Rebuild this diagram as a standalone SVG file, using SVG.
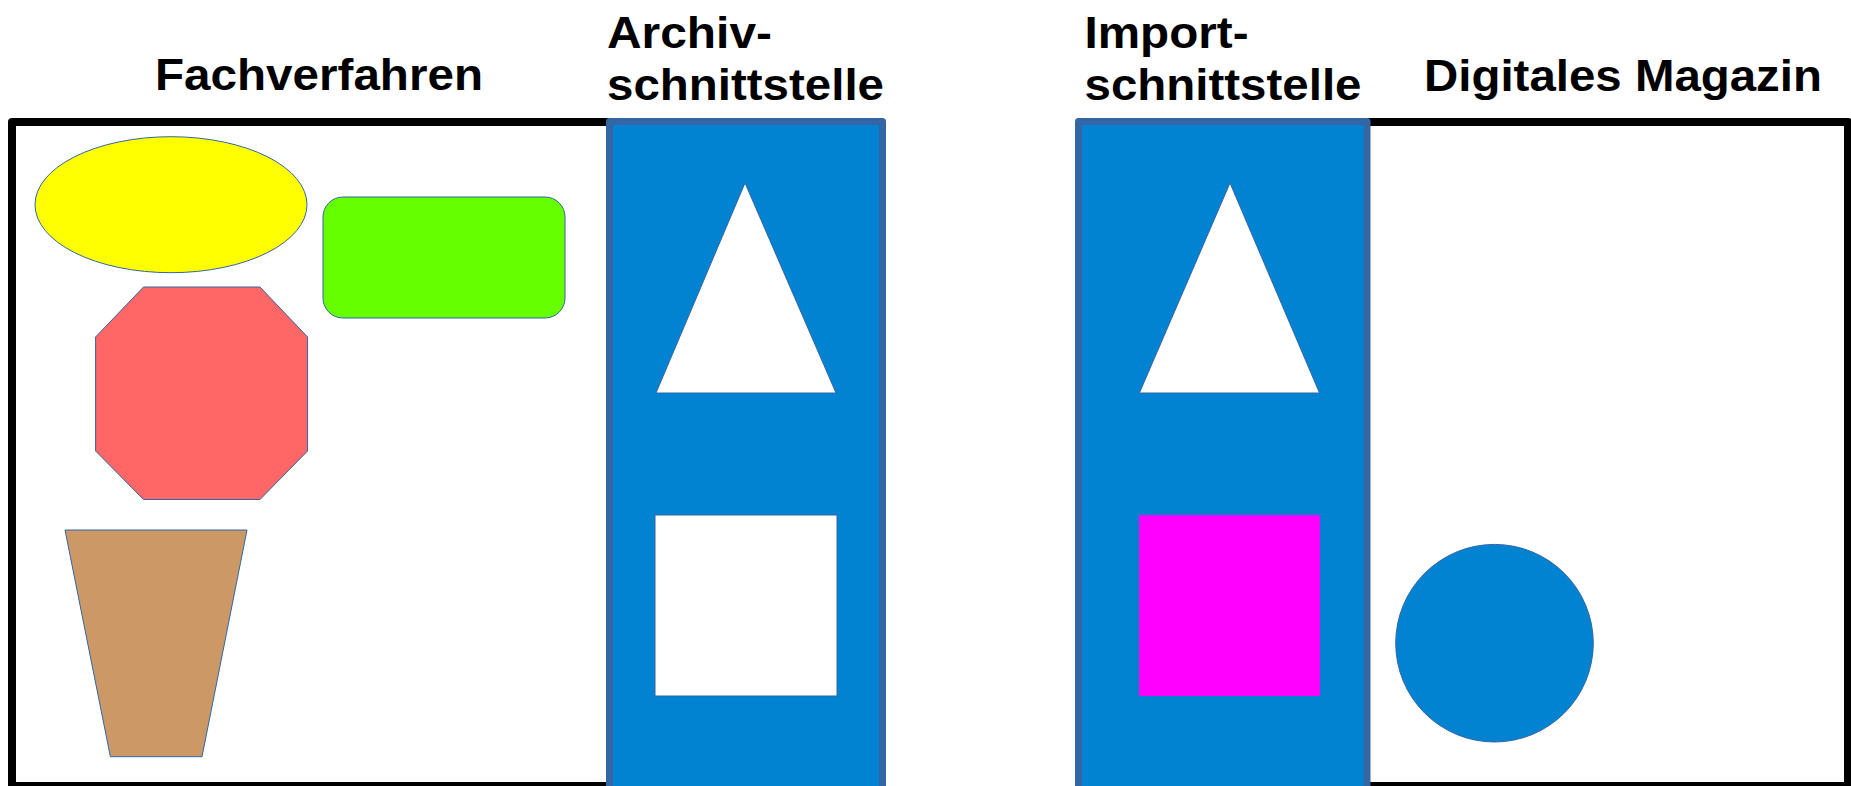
<svg xmlns="http://www.w3.org/2000/svg" width="1851" height="786" viewBox="0 0 1851 786">
<style>
.frame{fill:none;stroke:#000;stroke-width:8;stroke-linejoin:round}
.panel{fill:#0283d2;stroke:#3465a4;stroke-width:7;stroke-linejoin:round}
.shape{stroke:#3465a4;stroke-width:1}
.lbl{font-family:"Liberation Sans",Arial,sans-serif;font-weight:bold;font-size:44.5px;fill:#000}
</style>
<rect width="1851" height="786" fill="#fff"/>
<g id="fachverfahren">
<rect class="frame" x="12" y="122" width="620" height="664"/>
<text class="lbl" x="155" y="90" textLength="328" lengthAdjust="spacingAndGlyphs">Fachverfahren</text>
<ellipse class="shape" cx="171" cy="204.7" rx="136" ry="68" fill="#ffff00"/>
<rect class="shape" x="323" y="197" width="242" height="121" rx="20" ry="20" fill="#66ff00"/>
<polygon class="shape" points="143.5,287 260,287 307.6,337 307.6,451 260,499.5 143.5,499.5 95.6,451 95.6,337" fill="#ff6666"/>
<polygon class="shape" points="65,530 247,530 202,756.7 110.4,756.7" fill="#cc9966"/>
</g>
<g id="digitales-magazin">
<rect class="frame" x="1300" y="122" width="548" height="664"/>
<text class="lbl" x="1424" y="90.7" textLength="398" lengthAdjust="spacingAndGlyphs">Digitales Magazin</text>
<circle class="shape" cx="1494.5" cy="643.2" r="98.8" fill="#0283d2" stroke-width="0.5"/>
</g>
<g id="archivschnittstelle">
<rect class="panel" x="609.5" y="121.5" width="273" height="680"/>
<text class="lbl" x="607" y="48.3" textLength="165" lengthAdjust="spacingAndGlyphs">Archiv-</text>
<text class="lbl" x="607" y="100" textLength="277" lengthAdjust="spacingAndGlyphs">schnittstelle</text>
<polygon class="shape" points="745,183 836,393 656,393" fill="#fff"/>
<rect class="shape" x="655" y="515" width="182" height="181" fill="#fff"/>
</g>
<g id="importschnittstelle">
<rect class="panel" x="1078.5" y="121.5" width="288.5" height="680"/>
<text class="lbl" x="1084.5" y="48.3" textLength="164" lengthAdjust="spacingAndGlyphs">Import-</text>
<text class="lbl" x="1084.5" y="100" textLength="277" lengthAdjust="spacingAndGlyphs">schnittstelle</text>
<polygon class="shape" points="1230,183 1319.5,393 1139.4,393" fill="#fff"/>
<rect x="1139" y="515" width="181" height="181" fill="#ff00ff"/>
</g>
<g id="connectors"/>
</svg>
